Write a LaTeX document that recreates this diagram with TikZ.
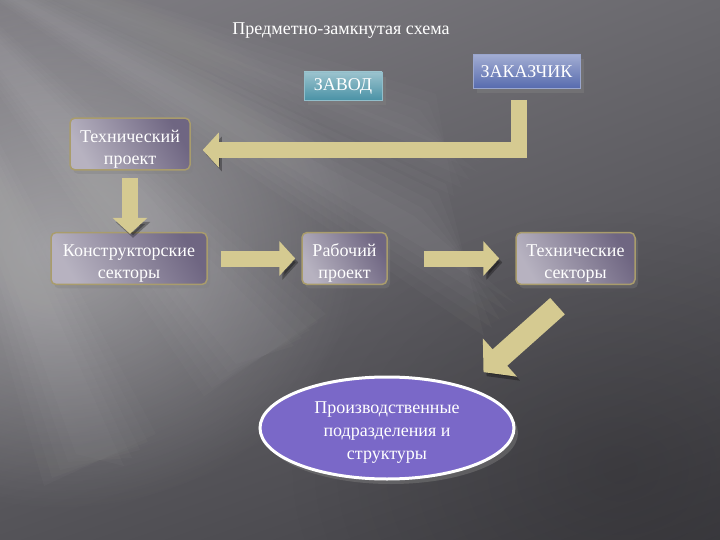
\documentclass[tikz,border=0pt]{standalone}
\usepackage{fontspec}
\setmainfont{Liberation Serif}
\usetikzlibrary{arrows.meta,shadows,shapes.geometric,calc,shadings,fadings}
\definecolor{tan}{HTML}{D5CA91}
\definecolor{tanedge}{HTML}{A99C6C}
\definecolor{bgul}{RGB}{128,126,132}
\definecolor{bgur}{RGB}{106,105,110}
\definecolor{bgll}{RGB}{84,83,88}
\definecolor{bglr}{RGB}{64,63,68}
\definecolor{zavodc}{RGB}{74,146,166}
\definecolor{zakazc}{RGB}{86,106,174}
\definecolor{boxc}{HTML}{6F6682}
\definecolor{ellc}{RGB}{122,104,200}
\newcommand{\tstrut}{\rule{0pt}{22pt}}
\tikzfading[name=glow, inner color=transparent!0, outer color=transparent!100]
\tikzset{
  box/.style={rounded corners=5pt, draw=tanedge, line width=1.5pt,
    shading=axis, left color=#1!50!white, right color=#1, shading angle=120,
    text=white, align=center, font=\fontsize{18}{22}\selectfont, inner sep=2pt,
    drop shadow={opacity=0.35, shadow xshift=3pt, shadow yshift=-4pt}},
  topbox/.style={draw=#1!60!white, line width=0.8pt, shading=axis,
    top color=#1!55!white, bottom color=#1, text=white,
    font=\fontsize{18}{22}\selectfont, inner sep=0pt,
    drop shadow={opacity=0.45, shadow xshift=4pt, shadow yshift=-5pt}},
  blockarrow/.style={draw=tan, line width=16pt, line join=miter,
    -{Triangle[width=34pt,length=16pt]},
    preaction={draw=black, opacity=0.3, transform canvas={shift={(3pt,-4pt)}}}},
  ray/.style={fill=white, opacity=#1},
}
\begin{document}
\begin{tikzpicture}[x=1pt,y=-1pt]
\useasboundingbox (0,0) rectangle (720,540);
% background
\shade[upper left=bgul, upper right=bgur, lower left=bgll, lower right=bglr]
  (0,0) rectangle (720,540);
\fill[white, opacity=0.36, path fading=glow] (60,250) ellipse (300 and 260);
\fill[black, opacity=0.18, path fading=glow] (620,470) ellipse (330 and 260);
\begin{scope}
\clip (0,0) rectangle (720,540);
\foreach \s in {-16,-8,0,8,16}{
  \fill[ray=0.022] (-120,-80) -- ($(430,200)+(\s,-\s)$) -- ($(500,320)+(-\s,\s)$) -- cycle;
  \fill[ray=0.018] (-120,-80) -- ($(310,330)+(\s,-\s)$) -- ($(220,380)+(-\s,\s)$) -- cycle;
  \fill[ray=0.018] (-120,-80) -- ($(140,450)+(\s,-\s)$) -- ($(60,470)+(-\s,\s)$) -- cycle;
  \fill[ray=0.015] (-120,-80) -- ($(420,110)+(\s,-\s)$) -- ($(470,180)+(-\s,\s)$) -- cycle;
}
\end{scope}
% title
\node[text=white, font=\fontsize{18}{22}\selectfont] (title) at (341,31) {Предметно-замкнутая схема};
% top boxes
\node[topbox=zavodc, minimum width=78pt, minimum height=28pt] (zavod) at (343,86) {ЗАВОД};
\node[topbox=zakazc, minimum width=107pt, minimum height=34pt] (zakaz) at (526.5,71.5) {ЗАКАЗЧИК};
% process boxes
\node[box=boxc, minimum width=120pt, minimum height=46pt] (tp) at (130,144) {\tstrut Технический\\проект};
\node[box=boxc, minimum width=156pt, minimum height=51pt] (ks) at (129,258.5) {\tstrut Конструкторские\\секторы};
\node[box=boxc, minimum width=85pt, minimum height=51pt] (rp) at (344.5,258.5) {\tstrut Рабочий\\проект};
\node[box=boxc, minimum width=119pt, minimum height=51pt] (ts) at (575.5,258.5) {\tstrut Технические\\секторы};
% ellipse
\node[ellipse, draw=white, line width=3pt, fill=ellc,
  minimum width=254pt, minimum height=102pt, inner sep=0pt,
  label={[text=white, align=center, font=\fontsize{18}{23}\selectfont, yshift=-5pt]center:Производственные\\подразделения и\\структуры},
  drop shadow={opacity=0.45, shadow xshift=4pt, shadow yshift=-5pt}] (ell) at (387,428) {};
% arrows
\coordinate (corner) at (519,150);
\draw[blockarrow] ([yshift=-11pt]zakaz.south -| corner) |- ([xshift=12pt]tp.east |- corner);
\draw[blockarrow] ([yshift=-7pt]tp.south) -- ([yshift=-2pt]tp.south |- ks.north);
\draw[blockarrow] ([xshift=13pt]ks.east) -- ([xshift=-6pt]rp.west);
\draw[blockarrow] ([xshift=36pt]rp.east) -- ([xshift=-16pt]ts.west);
\coordinate (dstart) at ($(ts.south)+(-18,21)$);
\coordinate (dend) at ($(ts.south)+(-92,87)$);
\draw[blockarrow, line width=22pt, -{Triangle[width=50pt,length=22pt]}] (dstart) -- (dend);
\end{tikzpicture}
\end{document}
